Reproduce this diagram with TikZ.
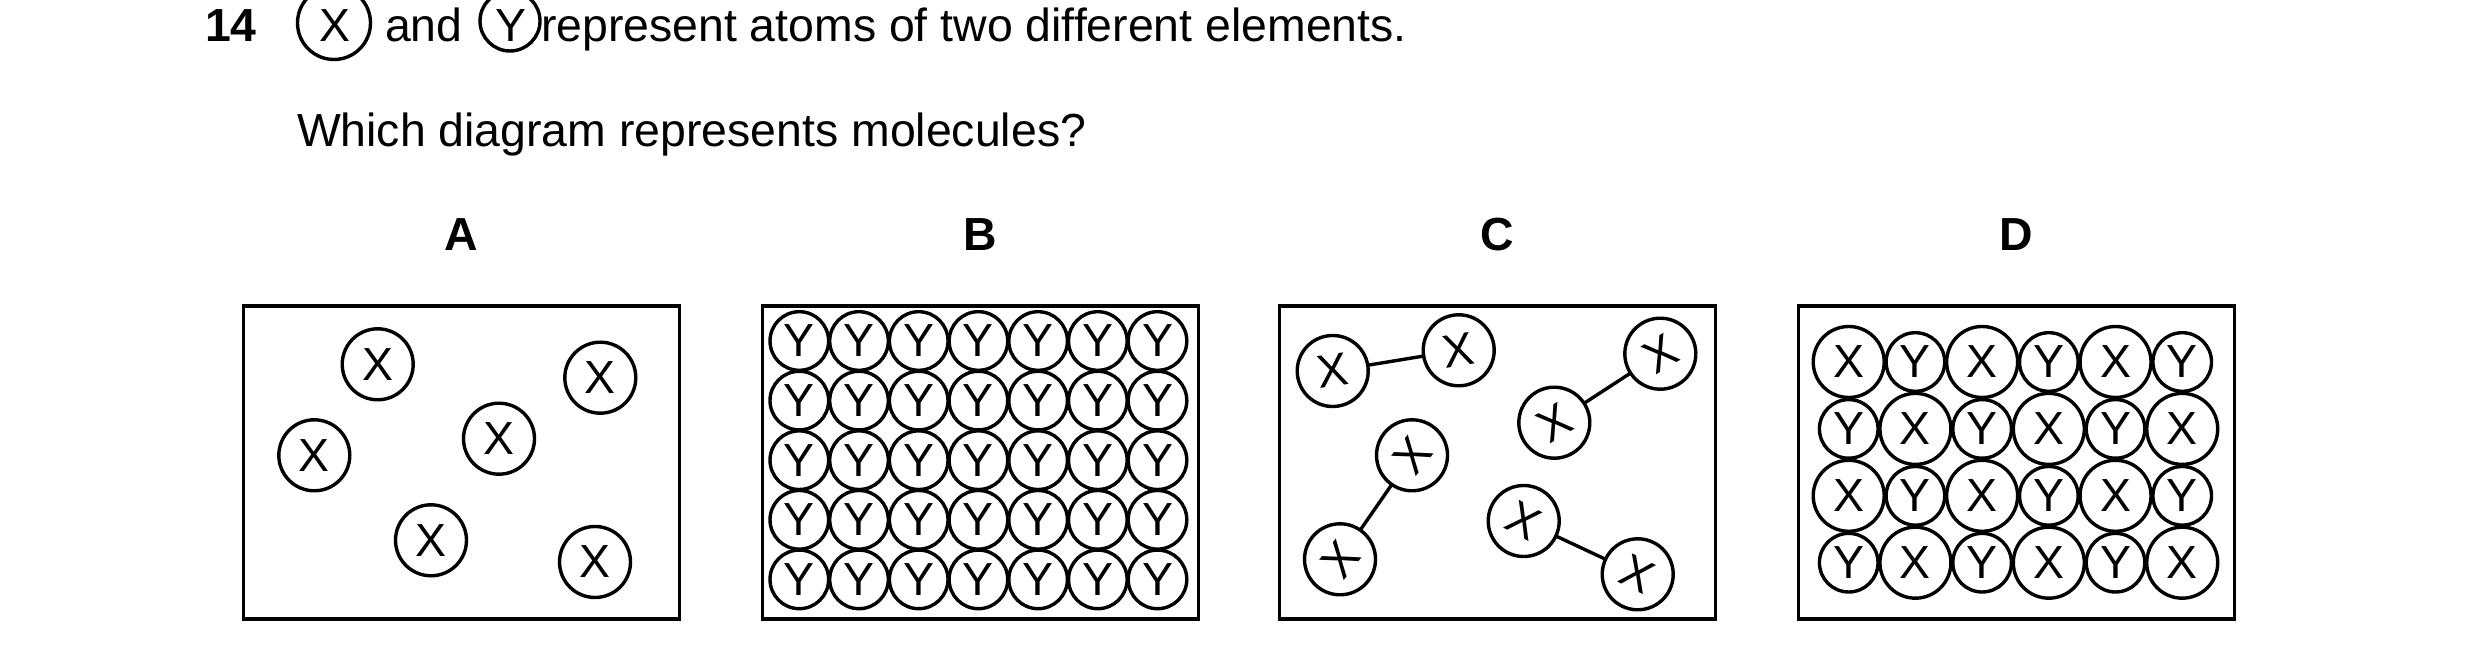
\documentclass[tikz,border=0pt]{standalone}
\usepackage{fontspec}
\setmainfont{Liberation Sans}
\begin{document}
\begin{tikzpicture}[x=0.25pt,y=-0.25pt,
  every node/.style={inner sep=0pt,outer sep=0pt,font=\fontsize{11.6}{14}\selectfont},
  txt/.style={anchor=base west},
  lbl/.style={anchor=base,font=\fontsize{11.6}{14}\selectfont\bfseries},
  box/.style={draw,line width=0.8pt,rectangle,minimum width=109pt,minimum height=78.25pt},
  xat/.style={circle,draw,line width=0.85pt,minimum size=17.75pt},
  yat/.style={circle,draw,line width=0.85pt,minimum size=14.65pt},
  hx/.style={circle,draw,line width=0.85pt,minimum size=18.25pt},
  hy/.style={circle,draw,line width=0.85pt,minimum size=15pt},
  bond/.style={line width=0.85pt}]
\useasboundingbox (0,0) rectangle (2480,661);
\clip (0,0) rectangle (2480,661);
% header
\node[txt,font=\fontsize{11.6}{14}\selectfont\bfseries] (num) at (205,42) {14};
\node[hx] (hxc) at (334,23) {};
\node[anchor=base] (hxl) at (335,42) {X};
\node[txt] (and) at (385,42) {and};
\node[hy] (hyc) at (510,21) {};
\node[anchor=base] (hyl) at (511,42) {Y};
\node[txt] (rep) at (541,42) {represent atoms of two different elements.};
\node[txt] (q) at (297,147) {Which diagram represents molecules?};
% boxes
\node[box] (bA) at (461.5,462.5) {};
\node[box] (bB) at (980.5,462.5) {};
\node[box] (bC) at (1497.5,462.5) {};
\node[box] (bD) at (2016.5,462.5) {};
\node[lbl] (lA) at (461.5,251) {A};
\node[lbl] (lB) at (980.5,251) {B};
\node[lbl] (lC) at (1497.5,251) {C};
\node[lbl] (lD) at (2016.5,251) {D};
% A
\node[xat] (a1) at (377.7,364.3) {X};
\node[xat] (a2) at (314.3,455.3) {X};
\node[xat] (a3) at (499,438.7) {X};
\node[xat] (a4) at (600.3,377.7) {X};
\node[xat] (a5) at (431,540.3) {X};
\node[xat] (a6) at (595,562) {X};
% B
\foreach \i in {0,...,6}{
  \foreach \j in {0,...,4}{
    \node[yat] (b\i\j) at (799.3+59.7*\i,341+59.6*\j) {Y};
  }
}
% C
\node[xat,rotate=8] (c1) at (1332.7,371) {X};
\node[xat,rotate=9] (c2) at (1458.7,350.3) {X};
\node[xat,rotate=52] (c3) at (1412,455.3) {X};
\node[xat,rotate=52] (c4) at (1340,559.3) {X};
\node[xat,rotate=31] (c5) at (1554.3,422.7) {X};
\node[xat,rotate=31] (c6) at (1660.3,353.7) {X};
\node[xat,rotate=-28] (c7) at (1523.7,521) {X};
\node[xat,rotate=-26] (c8) at (1637.7,574.3) {X};
\draw[bond] (c1) -- (c2);
\draw[bond] (c3) -- (c4);
\draw[bond] (c5) -- (c6);
\draw[bond] (c7) -- (c8);
% D
\foreach \j in {0,...,3}{
  \foreach \i in {0,...,5}{
    \pgfmathtruncatemacro{\p}{mod(\i+\j,2)}
    \ifnum\p=0
      \node[xat] (d\i\j) at (1848.7+66.7*\i,362+66.9*\j) {X};
    \else
      \node[yat] (d\i\j) at (1848.7+66.7*\i,362+66.9*\j) {Y};
    \fi
  }
}
\end{tikzpicture}
\end{document}
